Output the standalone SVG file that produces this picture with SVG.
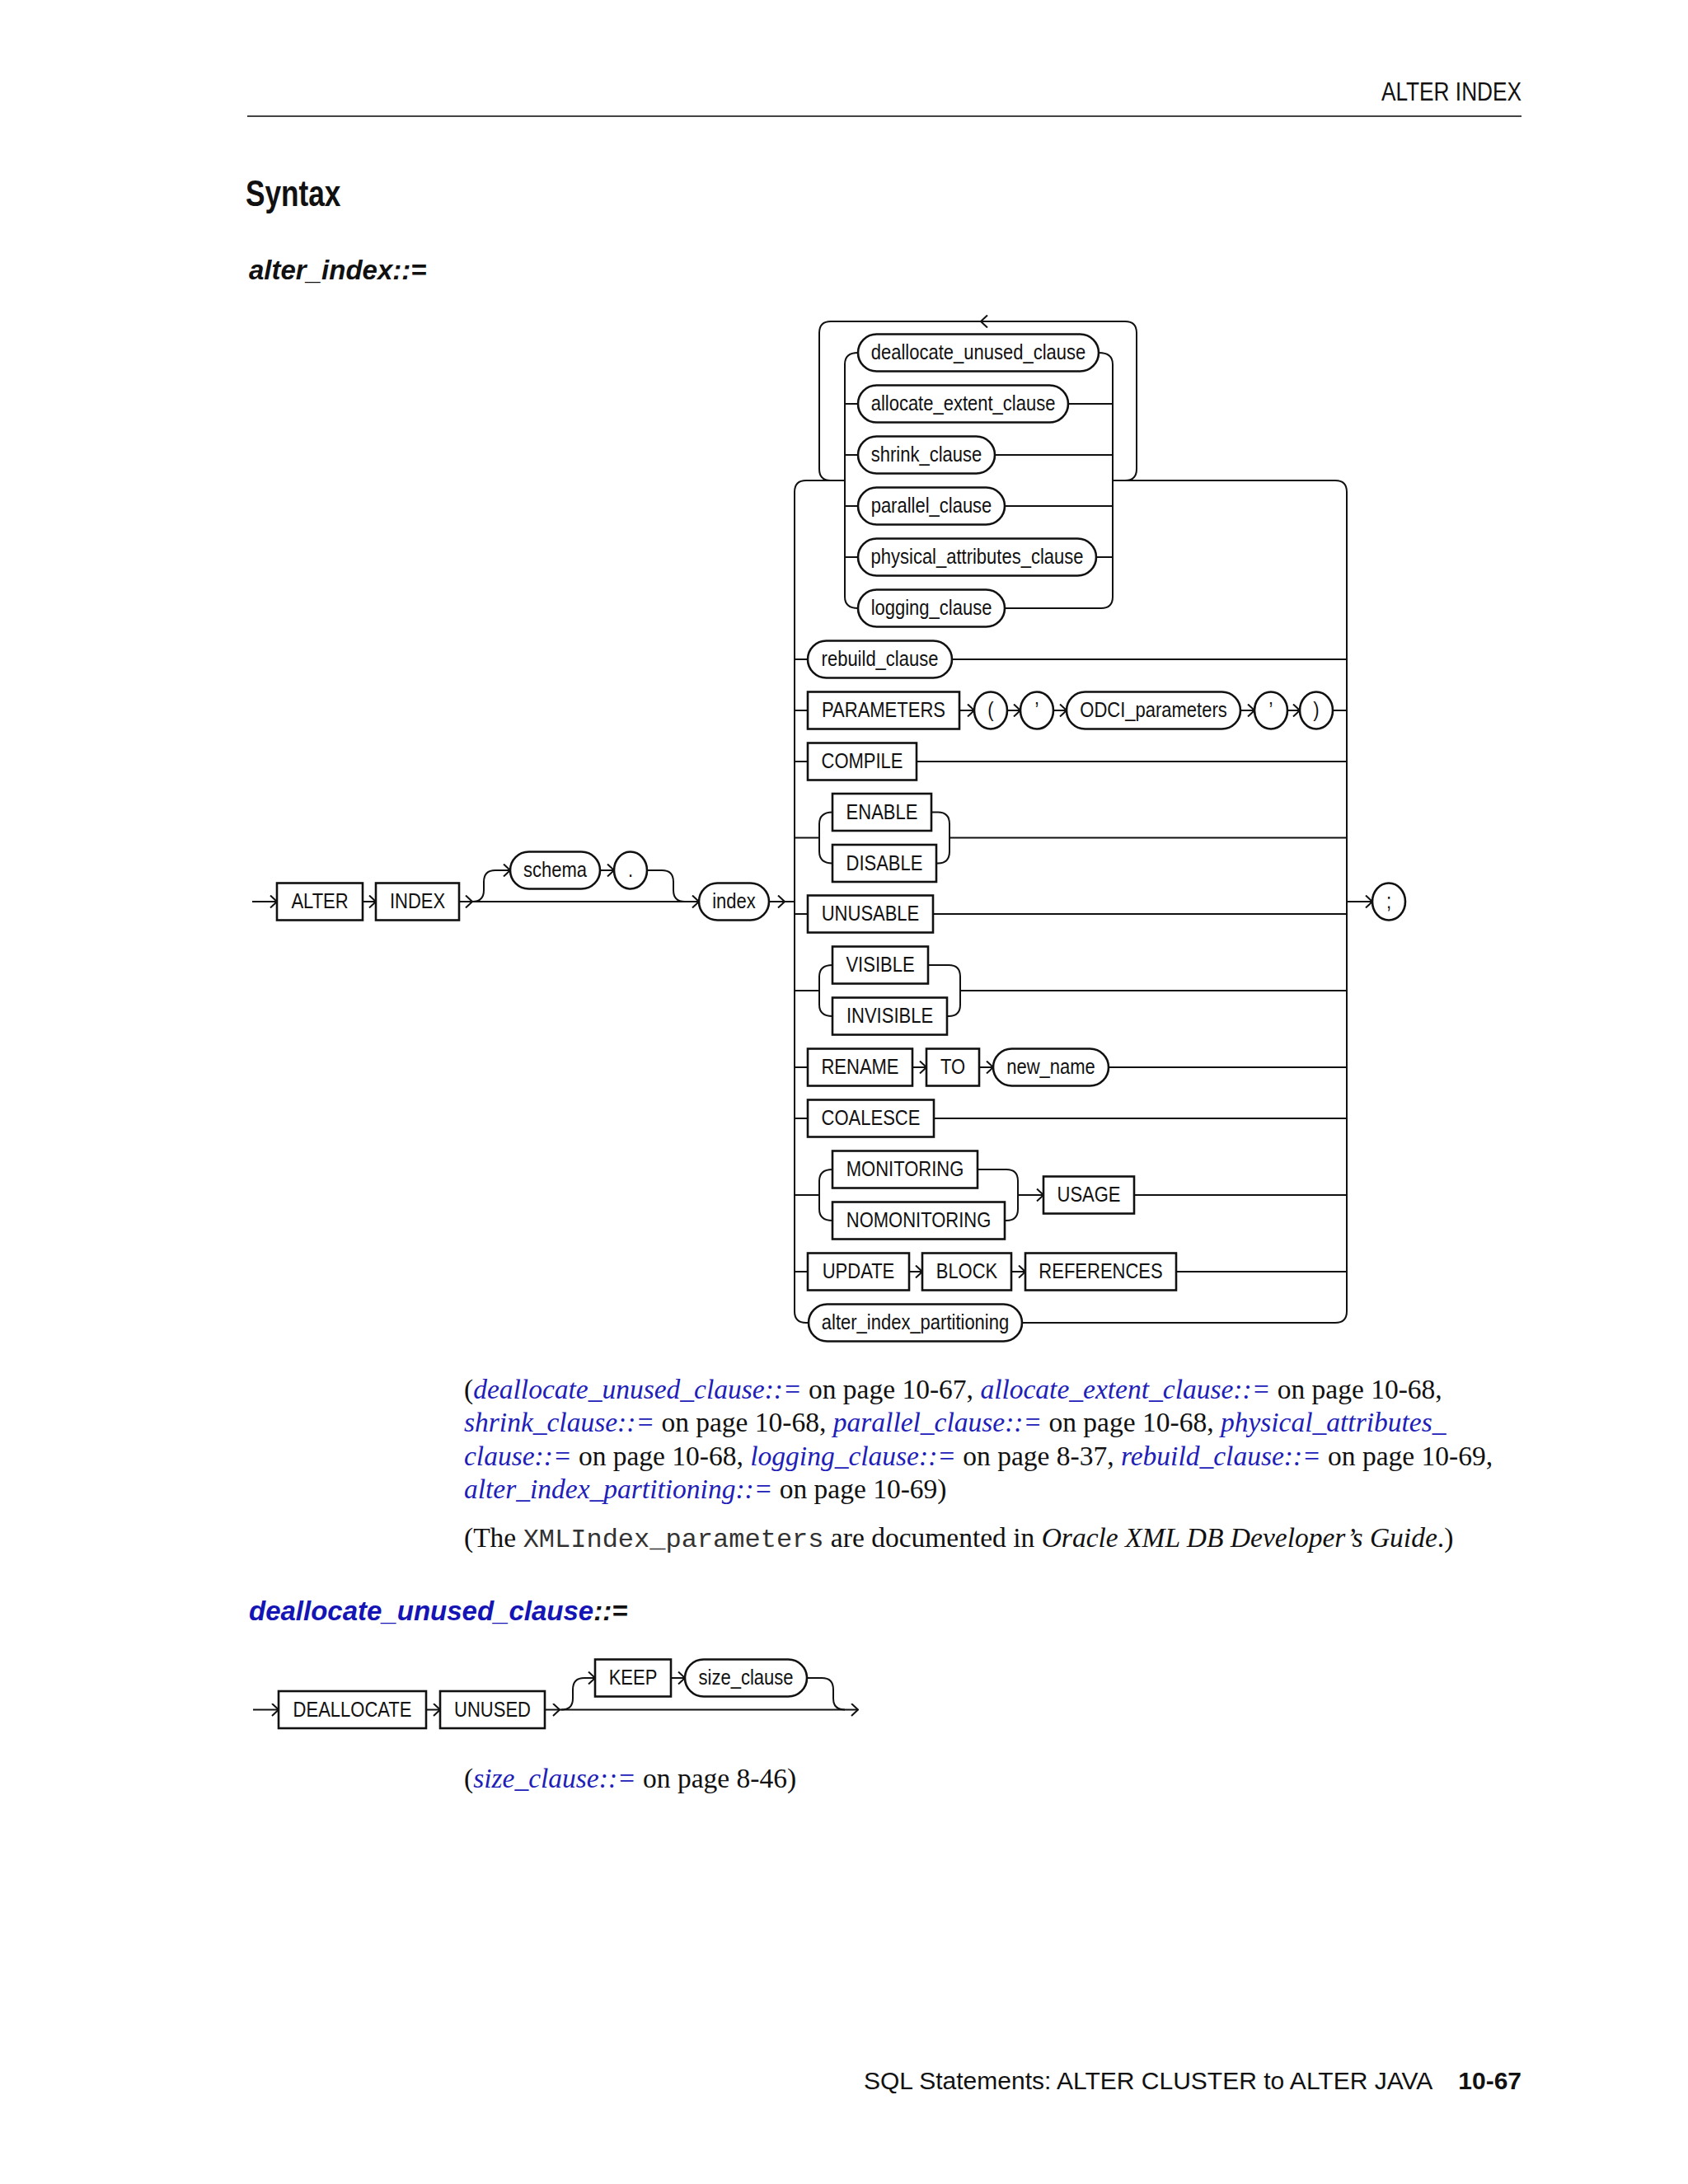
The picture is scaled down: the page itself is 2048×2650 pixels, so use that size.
<svg xmlns="http://www.w3.org/2000/svg" width="2048" height="2650" viewBox="0 0 2048 2650">
<style>
.bx{fill:#fff;stroke:#111;stroke-width:2.6}
.ln{fill:none;stroke:#111;stroke-width:2}
.t{font-family:"Liberation Sans",Arial,sans-serif;font-size:26.5px;fill:#111;text-anchor:middle}
.hd{font-family:"Liberation Sans",Arial,sans-serif;fill:#111}
.fn{font-family:"Liberation Serif","Times New Roman",serif;font-size:33.5px;fill:#111}
.lk{font-style:italic;fill:#2020b8}
.mono{font-family:"Liberation Mono","Courier New",monospace;font-size:32px;fill:#333}
</style>
<defs>
<marker id="arr" viewBox="0 0 10 16" refX="9" refY="8" markerWidth="10" markerHeight="16" markerUnits="userSpaceOnUse" orient="auto">
<path d="M1,0.5 L9,8 L1,15.5" fill="none" stroke="#111" stroke-width="2"/>
</marker>
</defs>
<rect width="2048" height="2650" fill="#fff"/>

<g id="page-header">
<text class="hd" font-size="32" text-anchor="end" transform="translate(1846 122) scale(.82 1)">ALTER INDEX</text>
<line x1="300" y1="141" x2="1846" y2="141" stroke="#444" stroke-width="2.2"/>
<text class="hd" font-size="44" font-weight="bold" transform="translate(298 250) scale(.8 1)">Syntax</text>
<text class="hd" x="302" y="339" font-size="33" font-weight="bold" font-style="italic">alter_index::=</text>
</g>

<g id="connectors">
<!-- main line -->
<path class="ln" d="M306,1094 L336,1094" marker-end="url(#arr)"/>
<path class="ln" d="M440,1094 L456,1094" marker-end="url(#arr)"/>
<path class="ln" d="M557,1094 L573,1094" marker-end="url(#arr)"/>
<path class="ln" d="M573,1094 L848,1094" marker-end="url(#arr)"/>
<path class="ln" d="M573,1094 Q587,1094 587,1080 L587,1070 Q587,1056 601,1056 L619,1056" marker-end="url(#arr)"/>
<path class="ln" d="M728,1056 L745,1056" marker-end="url(#arr)"/>
<path class="ln" d="M785,1056 L803,1056 Q817,1056 817,1070 L817,1080 Q817,1094 831,1094"/>
<path class="ln" d="M933,1094 L952,1094" marker-end="url(#arr)"/>
<path class="ln" d="M952,1094 L964,1094"/>
<path class="ln" d="M1634,1094 L1665,1094" marker-end="url(#arr)"/>
<!-- big choice frame -->
<path class="ln" d="M1025,583 L978,583 Q964,583 964,597 L964,1591 Q964,1605 978,1605 L981,1605"/>
<path class="ln" d="M1350,583 L1620,583 Q1634,583 1634,597 L1634,1591 Q1634,1605 1620,1605 L1240,1605"/>
<!-- repeat loop -->
<path class="ln" d="M1365,583 Q1379,583 1379,569 L1379,404 Q1379,390 1365,390 L1008,390 Q994,390 994,404 L994,569 Q994,583 1008,583"/>
<path class="ln" d="M1204,390 L1190,390" marker-end="url(#arr)"/>
<!-- inner clause choice -->
<path class="ln" d="M1041,428 Q1025,428 1025,442 L1025,724 Q1025,738 1041,738"/>
<path class="ln" d="M1333,428 Q1350,428 1350,442 L1350,724 Q1350,738 1336,738 L1219,738"/>
<path class="ln" d="M1025,490 L1350,490 M1025,552 L1350,552 M1025,614 L1350,614 M1025,676 L1350,676"/>
<!-- rows -->
<path class="ln" d="M964,800 L1634,800"/>
<path class="ln" d="M964,862 L980,862 M1617,862 L1634,862"/>
<path class="ln" d="M1164,862 L1182,862" marker-end="url(#arr)"/>
<path class="ln" d="M1222,862 L1238,862" marker-end="url(#arr)"/>
<path class="ln" d="M1278,862 L1294,862" marker-end="url(#arr)"/>
<path class="ln" d="M1505,862 L1522,862" marker-end="url(#arr)"/>
<path class="ln" d="M1562,862 L1577,862" marker-end="url(#arr)"/>
<path class="ln" d="M964,924 L1634,924"/>
<path class="ln" d="M964,1016.5 L994,1016.5 M1152,1016.5 L1634,1016.5"/>
<path class="ln" d="M1010,985.5 Q994,985.5 994,1000 L994,1033 Q994,1047.5 1010,1047.5"/>
<path class="ln" d="M1130,985.5 L1138,985.5 Q1152,985.5 1152,1000 L1152,1033 Q1152,1047.5 1138,1047.5 L1136,1047.5"/>
<path class="ln" d="M964,1109 L1634,1109"/>
<path class="ln" d="M964,1202 L994,1202 M1165,1202 L1634,1202"/>
<path class="ln" d="M1010,1171 Q994,1171 994,1185 L994,1219 Q994,1233 1010,1233"/>
<path class="ln" d="M1126,1171 L1151,1171 Q1165,1171 1165,1185 L1165,1219 Q1165,1233 1151,1233 L1149,1233"/>
<path class="ln" d="M964,1295 L980,1295 M1345,1295 L1634,1295"/>
<path class="ln" d="M1107,1295 L1124,1295" marker-end="url(#arr)"/>
<path class="ln" d="M1188,1295 L1205,1295" marker-end="url(#arr)"/>
<path class="ln" d="M964,1357 L1634,1357"/>
<path class="ln" d="M964,1450 L994,1450 M1376,1450 L1634,1450"/>
<path class="ln" d="M1010,1419 Q994,1419 994,1433 L994,1467 Q994,1481 1010,1481"/>
<path class="ln" d="M1186,1419 L1221,1419 Q1235,1419 1235,1433 L1235,1467 Q1235,1481 1221,1481 L1219,1481"/>
<path class="ln" d="M1235,1450 L1266,1450" marker-end="url(#arr)"/>
<path class="ln" d="M964,1543 L980,1543 M1427,1543 L1634,1543"/>
<path class="ln" d="M1103,1543 L1119,1543" marker-end="url(#arr)"/>
<path class="ln" d="M1227,1543 L1244,1543" marker-end="url(#arr)"/>
<!-- deallocate_unused_clause diagram -->
<path class="ln" d="M307,2074.5 L338,2074.5" marker-end="url(#arr)"/>
<path class="ln" d="M517,2074.5 L534,2074.5" marker-end="url(#arr)"/>
<path class="ln" d="M661,2074.5 L679,2074.5" marker-end="url(#arr)"/>
<path class="ln" d="M679,2074.5 L1041,2074.5" marker-end="url(#arr)"/>
<path class="ln" d="M681,2074.5 Q695,2074.5 695,2061 L695,2050 Q695,2036 709,2036 L722,2036" marker-end="url(#arr)"/>
<path class="ln" d="M814,2036 L831,2036" marker-end="url(#arr)"/>
<path class="ln" d="M979,2036 L997,2036 Q1011,2036 1011,2050 L1011,2061 Q1011,2074.5 1025,2074.5"/>
</g>

<g id="n-alter"><rect class="bx" x="336" y="1071.5" width="104" height="45"/><text class="t" transform="translate(388 1102) scale(.83 1)">ALTER</text></g>
<g id="n-index-kw"><rect class="bx" x="456" y="1071.5" width="101" height="45"/><text class="t" transform="translate(506.5 1102) scale(.83 1)">INDEX</text></g>
<g id="n-schema"><rect class="bx" x="619" y="1033.5" width="109" height="45" rx="22.5"/><text class="t" transform="translate(673.5 1064) scale(.83 1)">schema</text></g>
<g id="n-dot"><ellipse class="bx" cx="765" cy="1056" rx="20" ry="22.5"/><text class="t" transform="translate(765 1064) scale(.83 1)">.</text></g>
<g id="n-index"><rect class="bx" x="848" y="1071.5" width="85" height="45" rx="22.5"/><text class="t" transform="translate(890.5 1102) scale(.83 1)">index</text></g>
<g id="n-semi"><ellipse class="bx" cx="1685" cy="1094" rx="20" ry="22.5"/><text class="t" transform="translate(1685 1102) scale(.83 1)">;</text></g>

<g id="n-deallocate-unused-clause"><rect class="bx" x="1041" y="405.5" width="292" height="45" rx="22.5"/><text class="t" transform="translate(1187 436) scale(.83 1)">deallocate_unused_clause</text></g>
<g id="n-allocate-extent-clause"><rect class="bx" x="1041" y="467.5" width="255" height="45" rx="22.5"/><text class="t" transform="translate(1168.5 498) scale(.83 1)">allocate_extent_clause</text></g>
<g id="n-shrink-clause"><rect class="bx" x="1041" y="529.5" width="166" height="45" rx="22.5"/><text class="t" transform="translate(1124 560) scale(.83 1)">shrink_clause</text></g>
<g id="n-parallel-clause"><rect class="bx" x="1041" y="591.5" width="178" height="45" rx="22.5"/><text class="t" transform="translate(1130 622) scale(.83 1)">parallel_clause</text></g>
<g id="n-physical-attributes-clause"><rect class="bx" x="1041" y="653.5" width="289" height="45" rx="22.5"/><text class="t" transform="translate(1185.5 684) scale(.83 1)">physical_attributes_clause</text></g>
<g id="n-logging-clause"><rect class="bx" x="1041" y="715.5" width="178" height="45" rx="22.5"/><text class="t" transform="translate(1130 746) scale(.83 1)">logging_clause</text></g>

<g id="n-rebuild-clause"><rect class="bx" x="980" y="777.5" width="175" height="45" rx="22.5"/><text class="t" transform="translate(1067.5 808) scale(.83 1)">rebuild_clause</text></g>
<g id="n-parameters"><rect class="bx" x="980" y="839.5" width="184" height="45"/><text class="t" transform="translate(1072 870) scale(.83 1)">PARAMETERS</text></g>
<g id="n-lparen"><ellipse class="bx" cx="1202" cy="862" rx="20" ry="22.5"/><text class="t" transform="translate(1202 870) scale(.83 1)">(</text></g>
<g id="n-quote1"><ellipse class="bx" cx="1258" cy="862" rx="20" ry="22.5"/><text class="t" transform="translate(1258 870) scale(.83 1)">’</text></g>
<g id="n-odci-parameters"><rect class="bx" x="1294" y="839.5" width="211" height="45" rx="22.5"/><text class="t" transform="translate(1399.5 870) scale(.83 1)">ODCI_parameters</text></g>
<g id="n-quote2"><ellipse class="bx" cx="1542" cy="862" rx="20" ry="22.5"/><text class="t" transform="translate(1542 870) scale(.83 1)">’</text></g>
<g id="n-rparen"><ellipse class="bx" cx="1597" cy="862" rx="20" ry="22.5"/><text class="t" transform="translate(1597 870) scale(.83 1)">)</text></g>
<g id="n-compile"><rect class="bx" x="980" y="901.5" width="132" height="45"/><text class="t" transform="translate(1046 932) scale(.83 1)">COMPILE</text></g>
<g id="n-enable"><rect class="bx" x="1010" y="963" width="120" height="45"/><text class="t" transform="translate(1070 993.5) scale(.83 1)">ENABLE</text></g>
<g id="n-disable"><rect class="bx" x="1010" y="1025" width="126" height="45"/><text class="t" transform="translate(1073 1055.5) scale(.83 1)">DISABLE</text></g>
<g id="n-unusable"><rect class="bx" x="980" y="1086.5" width="152" height="45"/><text class="t" transform="translate(1056 1117) scale(.83 1)">UNUSABLE</text></g>
<g id="n-visible"><rect class="bx" x="1010" y="1148.5" width="116" height="45"/><text class="t" transform="translate(1068 1179) scale(.83 1)">VISIBLE</text></g>
<g id="n-invisible"><rect class="bx" x="1010" y="1210.5" width="139" height="45"/><text class="t" transform="translate(1079.5 1241) scale(.83 1)">INVISIBLE</text></g>
<g id="n-rename"><rect class="bx" x="980" y="1272.5" width="127" height="45"/><text class="t" transform="translate(1043.5 1303) scale(.83 1)">RENAME</text></g>
<g id="n-to"><rect class="bx" x="1124" y="1272.5" width="64" height="45"/><text class="t" transform="translate(1156 1303) scale(.83 1)">TO</text></g>
<g id="n-new-name"><rect class="bx" x="1205" y="1272.5" width="140" height="45" rx="22.5"/><text class="t" transform="translate(1275 1303) scale(.83 1)">new_name</text></g>
<g id="n-coalesce"><rect class="bx" x="980" y="1334.5" width="153" height="45"/><text class="t" transform="translate(1056.5 1365) scale(.83 1)">COALESCE</text></g>
<g id="n-monitoring"><rect class="bx" x="1010" y="1396.5" width="176" height="45"/><text class="t" transform="translate(1098 1427) scale(.83 1)">MONITORING</text></g>
<g id="n-nomonitoring"><rect class="bx" x="1010" y="1458.5" width="209" height="45"/><text class="t" transform="translate(1114.5 1489) scale(.83 1)">NOMONITORING</text></g>
<g id="n-usage"><rect class="bx" x="1266" y="1427.5" width="110" height="45"/><text class="t" transform="translate(1321 1458) scale(.83 1)">USAGE</text></g>
<g id="n-update"><rect class="bx" x="980" y="1520.5" width="123" height="45"/><text class="t" transform="translate(1041.5 1551) scale(.83 1)">UPDATE</text></g>
<g id="n-block"><rect class="bx" x="1119" y="1520.5" width="108" height="45"/><text class="t" transform="translate(1173 1551) scale(.83 1)">BLOCK</text></g>
<g id="n-references"><rect class="bx" x="1244" y="1520.5" width="183" height="45"/><text class="t" transform="translate(1335.5 1551) scale(.83 1)">REFERENCES</text></g>
<g id="n-alter-index-partitioning"><rect class="bx" x="981" y="1582.5" width="259" height="45" rx="22.5"/><text class="t" transform="translate(1110.5 1613) scale(.83 1)">alter_index_partitioning</text></g>

<g id="notes-1">
<text class="fn" x="563" y="1697">(<tspan class="lk">deallocate_unused_clause::=</tspan> on page 10-67, <tspan class="lk">allocate_extent_clause::=</tspan> on page 10-68,</text>
<text class="fn" x="563" y="1737"><tspan class="lk">shrink_clause::=</tspan> on page 10-68, <tspan class="lk">parallel_clause::=</tspan> on page 10-68, <tspan class="lk">physical_attributes_</tspan></text>
<text class="fn" x="563" y="1778"><tspan class="lk">clause::=</tspan> on page 10-68, <tspan class="lk">logging_clause::=</tspan> on page 8-37, <tspan class="lk">rebuild_clause::=</tspan> on page 10-69,</text>
<text class="fn" x="563" y="1818"><tspan class="lk">alter_index_partitioning::=</tspan> on page 10-69)</text>
<text class="fn" x="563" y="1877">(The <tspan class="mono">XMLIndex_parameters</tspan> are documented in <tspan font-style="italic">Oracle XML DB Developer’s Guide</tspan>.)</text>
</g>

<g id="heading-2">
<text class="hd" x="302" y="1966" font-size="33" font-weight="bold" font-style="italic"><tspan fill="#1515b5">deallocate_unused_clause</tspan>::=</text>
</g>

<g id="n-deallocate"><rect class="bx" x="338" y="2052" width="179" height="45"/><text class="t" transform="translate(427.5 2082.5) scale(.83 1)">DEALLOCATE</text></g>
<g id="n-unused"><rect class="bx" x="534" y="2052" width="127" height="45"/><text class="t" transform="translate(597.5 2082.5) scale(.83 1)">UNUSED</text></g>
<g id="n-keep"><rect class="bx" x="722" y="2013.5" width="92" height="45"/><text class="t" transform="translate(768 2044) scale(.83 1)">KEEP</text></g>
<g id="n-size-clause"><rect class="bx" x="831" y="2013.5" width="148" height="45" rx="22.5"/><text class="t" transform="translate(905 2044) scale(.83 1)">size_clause</text></g>

<g id="notes-2">
<text class="fn" x="563" y="2169">(<tspan class="lk">size_clause::=</tspan> on page 8-46)</text>
</g>

<g id="page-footer">
<text class="hd" x="1048" y="2535" font-size="30">SQL Statements: ALTER CLUSTER to ALTER JAVA</text>
<text class="hd" x="1846" y="2535" font-size="30" font-weight="bold" text-anchor="end">10-67</text>
</g>
</svg>
